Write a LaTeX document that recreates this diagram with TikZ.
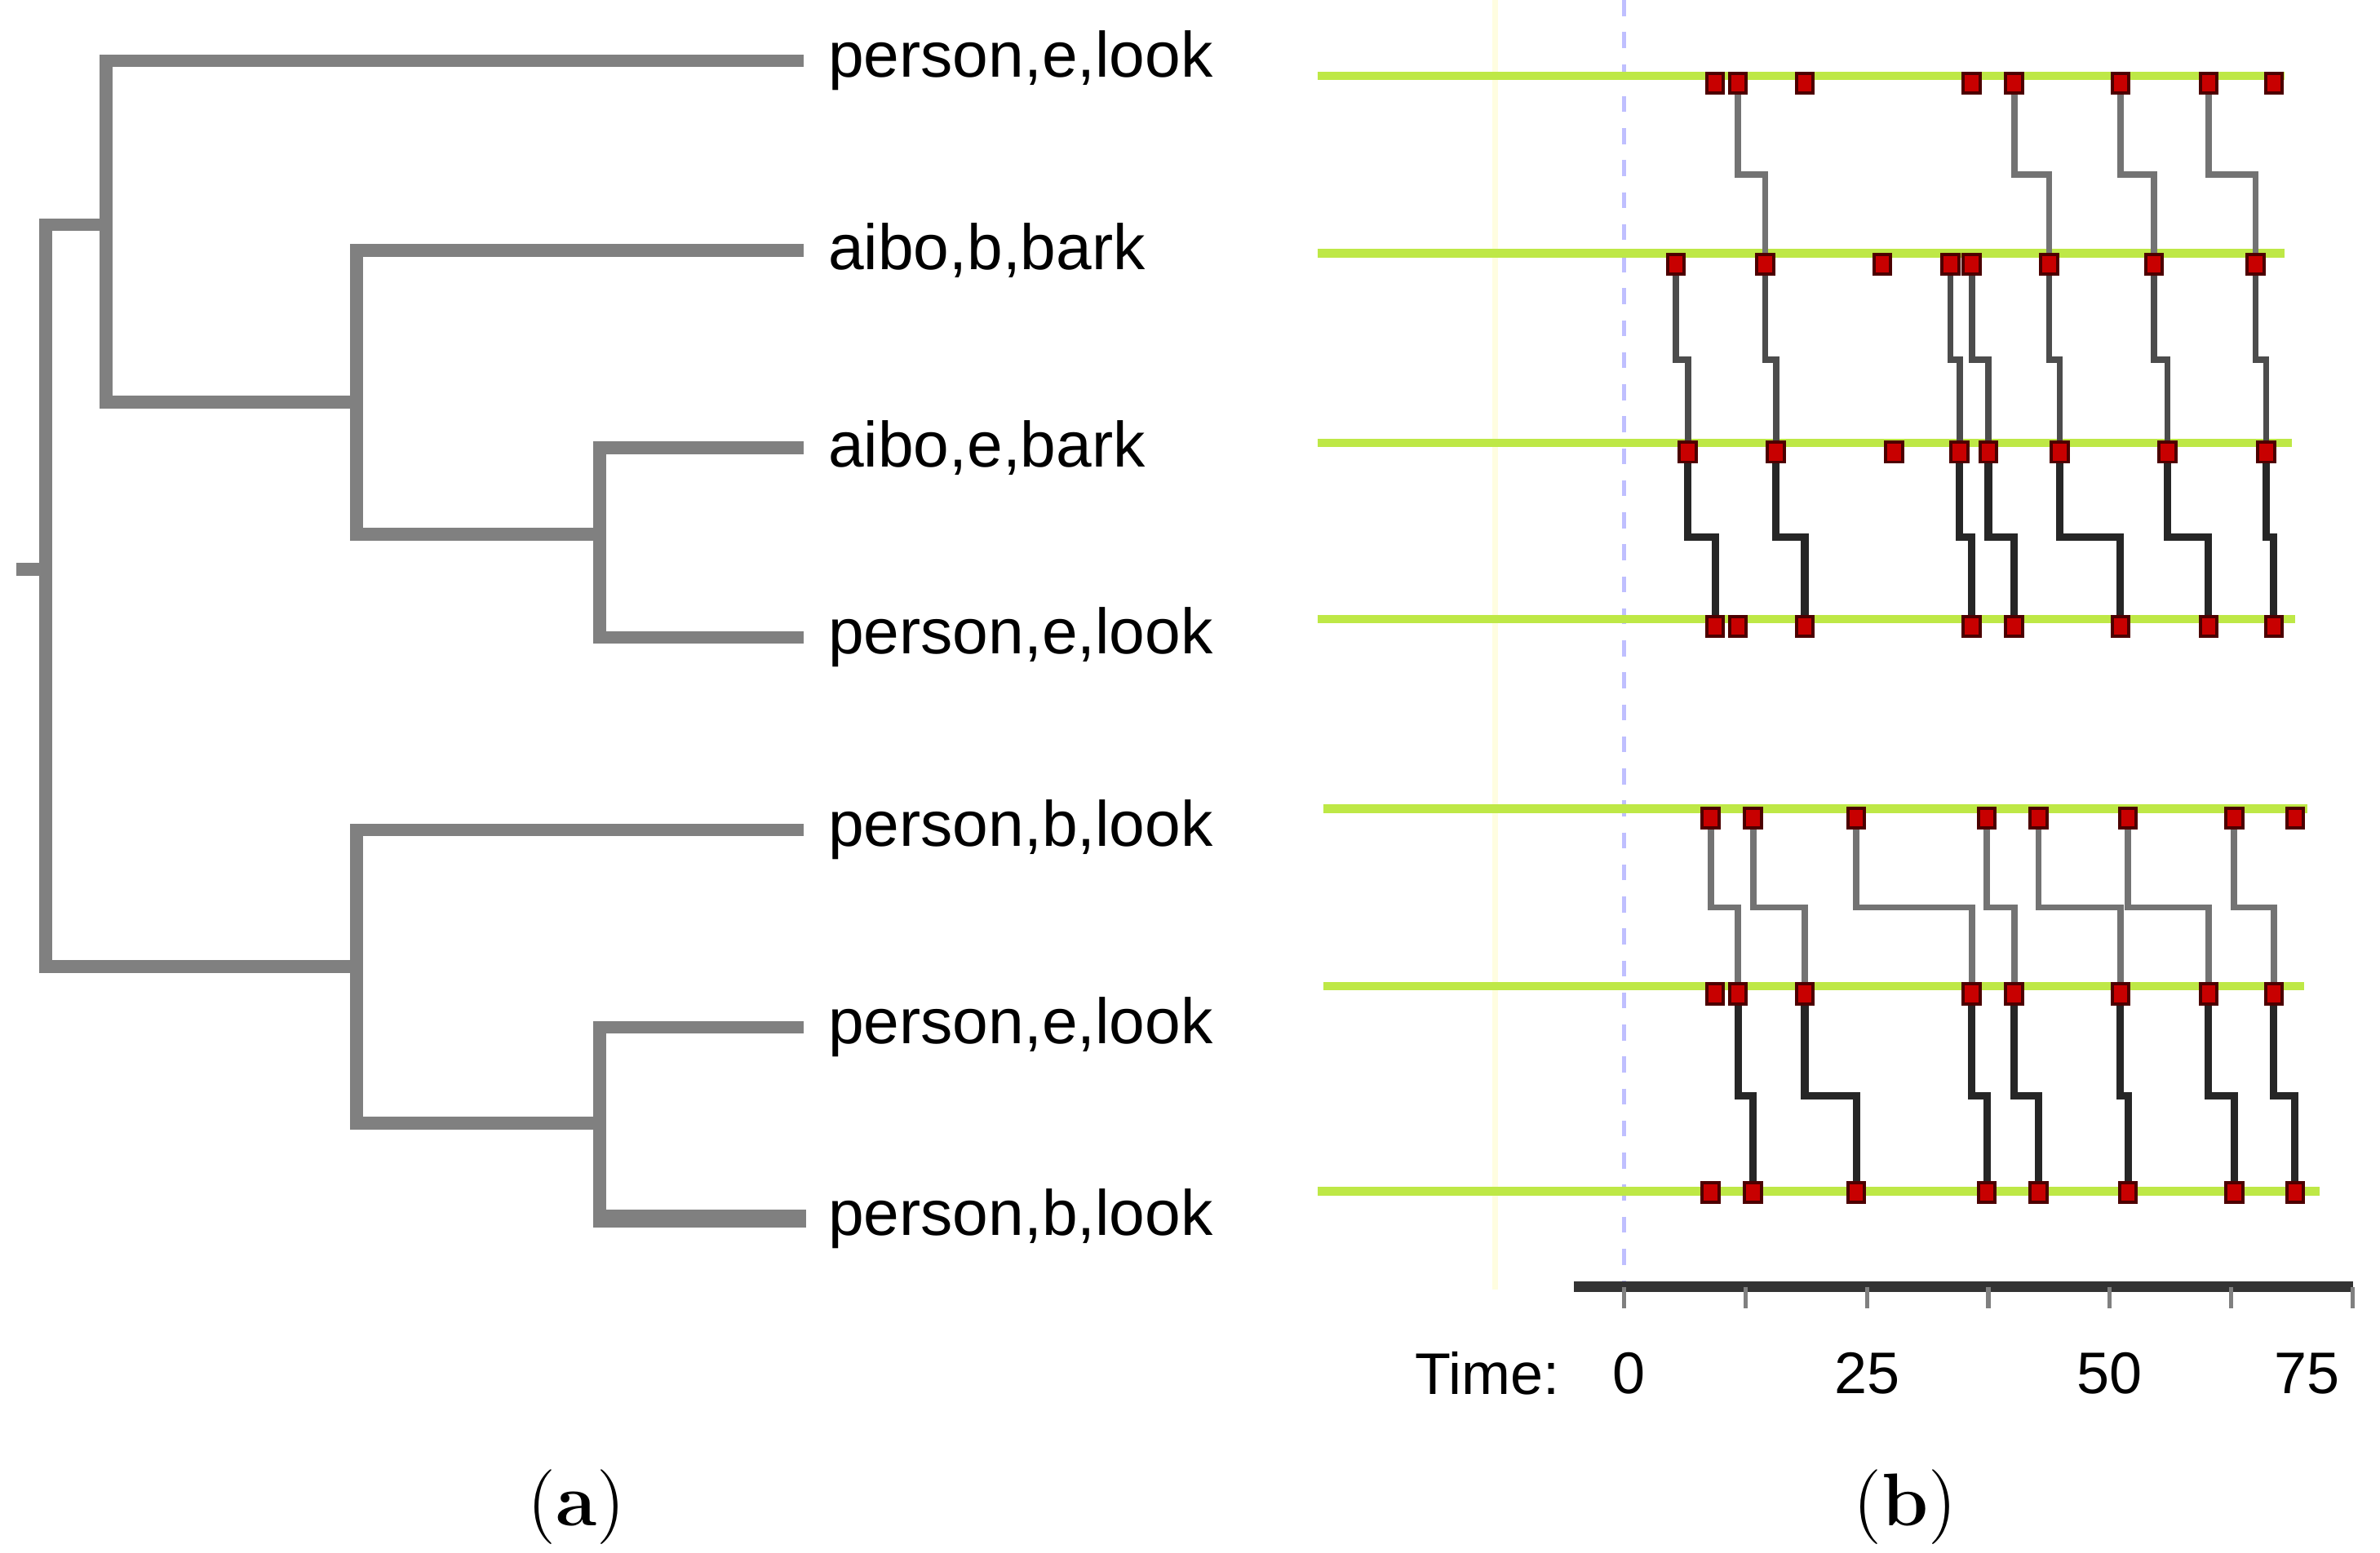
\documentclass[tikz,border=0pt]{standalone}
\usepackage{fontspec}
\newfontfamily\lsans{Liberation Sans}
\usetikzlibrary{positioning}
\definecolor{treegray}{RGB}{128,128,128}
\definecolor{rowgreen}{RGB}{190,232,70}
\definecolor{dotred}{RGB}{200,0,0}
\tikzset{branch/.style={draw=treegray,line width=2.4pt,line cap=rect}}
\tikzset{leaf/.style={anchor=west,font=\lsans\fontsize{12}{14}\selectfont,inner sep=0pt}}
\tikzset{row/.style={draw=rowgreen,line width=1.6pt}}
\tikzset{dot/.style={rectangle,fill=dotred,draw=red!30!black,line width=0.6pt,minimum width=1.1mm,minimum height=1.3mm,inner sep=0mm}}
\tikzset{lightlink/.style={draw=gray!90!black,line width=1.2pt}}
\tikzset{darklink/.style={draw=black!85,line width=1.4pt}}
\tikzset{ticklabel/.style={font=\lsans\fontsize{11}{13}\selectfont,inner sep=0pt}}
\begin{document}
\begin{tikzpicture}[x=0.01cm,y=-0.01cm]
  \useasboundingbox (0,0) rectangle (1568,1023);

  % dendrogram
  \node[leaf] (l1) at (545,40)  {person,e,look};
  \node[leaf] (l2) at (545,165) {aibo,b,bark};
  \node[leaf] (l3) at (545,295) {aibo,e,bark};
  \node[leaf] (l4) at (545,420) {person,e,look};
  \node[leaf] (l5) at (545,547) {person,b,look};
  \node[leaf] (l6) at (545,677) {person,e,look};
  \node[leaf] (l7) at (545,803) {person,b,look};

  \coordinate (root) at (30,375);
  \coordinate (top) at (70,148);
  \coordinate (mid) at (235,265);
  \coordinate (low) at (395,352);
  \coordinate (bot) at (235,637);
  \coordinate (botlow) at (395,740);

  \draw[branch] (15,375) -- (root);
  \draw[branch] (top) -| (root |- bot) -- (bot);
  \draw[branch] (root |- top) -- (top);
  \draw[branch] (525,40) -| (mid -| top) -- (mid);
  \draw[branch] (525,165) -| (mid |- low) -- (low);
  \draw[branch] (525,295) -| (395,420) -- (525,420);
  \draw[branch] (525,547) -| (bot |- botlow) -- (botlow);
  \draw[branch] (525,677) -| (395,803);
  \draw[branch,line width=3.4pt] (397,803) -- (525,803);

  % time lines
  \draw[yellow!12,line width=1pt] (985,0) -- (985,850);
  \draw[blue!25,dashed,line width=0.8pt] (1070,0) -- (1070,848);

  \draw[row] (868,50)  -- (1505,50);
  \draw[row] (868,167) -- (1505,167);
  \draw[row] (868,292) -- (1510,292);
  \draw[row] (868,408) -- (1512,408);
  \draw[row] (872,533) -- (1520,533);
  \draw[row] (872,650) -- (1518,650);
  \draw[row] (868,785) -- (1528,785);

  % event positions
  \foreach \r/\y in {1/55,4/413,6/655}
    \foreach \x [count=\i] in {1130,1145,1189,1299,1327,1397,1455,1498}
      \coordinate (p\r-\i) at (\x,\y);
  \foreach \x [count=\i] in {1104,1163,1240,1285,1299,1350,1419,1486}
    \coordinate (p2-\i) at (\x,174);
  \foreach \x [count=\i] in {1112,1170,1248,1291,1310,1357,1428,1493}
    \coordinate (p3-\i) at (\x,298);
  \foreach \r/\y in {5/539,7/786}
    \foreach \x [count=\i] in {1127,1155,1223,1309,1343,1402,1472,1512}
      \coordinate (p\r-\i) at (\x,\y);

  \coordinate (g1) at (0,115);
  \coordinate (g2) at (0,237);
  \coordinate (g3) at (0,354);
  \coordinate (g5) at (0,598);
  \coordinate (g6) at (0,722);

  % links between rows
  \foreach \a/\b in {2/2,5/6,6/7,7/8}
    \draw[lightlink] (p1-\a) -- (p1-\a |- g1) -| (p2-\b);
  \foreach \a/\b in {1/1,2/2,4/4,5/5,6/6,7/7,8/8}
    \draw[lightlink,draw=black!70] (p2-\a) -- (p2-\a |- g2) -| (p3-\b);
  \foreach \a/\b in {1/1,2/3,4/4,5/5,6/6,7/7,8/8}
    \draw[darklink] (p3-\a) -- (p3-\a |- g3) -| (p4-\b);
  \foreach \a/\b in {1/2,2/3,3/4,4/5,5/6,6/7,7/8}
    \draw[lightlink] (p5-\a) -- (p5-\a |- g5) -| (p6-\b);
  \foreach \a/\b in {2/2,3/3,4/4,5/5,6/6,7/7,8/8}
    \draw[darklink] (p6-\a) -- (p6-\a |- g6) -| (p7-\b);

  \foreach \r in {1,...,7}
    \foreach \i in {1,...,8}
      \node[dot] (d\r-\i) at (p\r-\i) {};

  % time axis
  \draw[black!80,line width=2pt] (1037,848) -- (1550,848);
  \foreach \t in {0,1,...,6}
    \draw[gray,line width=0.8pt] (1070+80*\t,848) -- (1070+80*\t,862);
  \node[ticklabel] (tlab) at (980,905) {Time:};
  \node[ticklabel] (t0)  at (1073,905) {0};
  \node[ticklabel] (t25) at (1230,905) {25};
  \node[ticklabel] (t50) at (1390,905) {50};
  \node[ticklabel] (t75) at (1520,905) {75};

  % captions
  \node[font=\fontsize{14}{16}\selectfont] (capa) at (380,993) {(\textbf{a})};
  \node[font=\fontsize{14}{16}\selectfont] (capb) at (1255,993) {(\textbf{b})};
\end{tikzpicture}
\end{document}
